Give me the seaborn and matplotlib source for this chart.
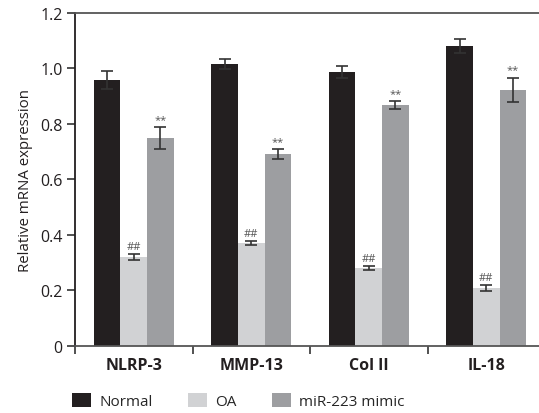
import numpy as np
import pandas as pd
import matplotlib
matplotlib.use("Agg")
from matplotlib import pyplot as plt
from matplotlib.patches import Patch
import seaborn as sns

genes = ["NLRP-3", "MMP-13", "Col II", "IL-18"]
groups = ["Normal", "OA", "miR-223 mimic"]
normal = [0.958, 1.016, 0.987, 1.081]
normal_err = [0.032, 0.017, 0.023, 0.026]
oa = [0.319, 0.370, 0.280, 0.208]
oa_err = [0.010, 0.008, 0.007, 0.010]
mimic = [0.749, 0.692, 0.868, 0.923]
mimic_err = [0.040, 0.018, 0.014, 0.044]
marks = ["", "##", "**"]
colors = ["#231f20", "#d1d2d4", "#9d9ea1"]

df = pd.DataFrame({
    "gene": genes * 3,
    "group": np.repeat(groups, len(genes)),
    "value": normal + oa + mimic,
    "err": normal_err + oa_err + mimic_err,
})

sns.set_style("white")
plt.rcParams["font.family"] = ["Open Sans", "DejaVu Sans"]

fig = plt.figure(figsize=(5.39, 4.14), dpi=100)
ax = fig.add_axes([75 / 539, 1 - 346.7 / 414, 470 / 539, 332.7 / 414])
sns.barplot(data=df, x="gene", y="value", hue="group", order=genes,
            hue_order=groups, palette=colors, width=0.68, errorbar=None,
            saturation=1, linewidth=0, legend=False, ax=ax)

bar_sets = list(ax.containers)
for i, cont in enumerate(bar_sets):
    sub = df[df["group"] == groups[i]].set_index("gene").loc[genes]
    xs = [p.get_x() + p.get_width() / 2 for p in cont.patches]
    ax.errorbar(xs, sub["value"], yerr=sub["err"], fmt="none",
                ecolor="#333333", elinewidth=1.2, capsize=4, capthick=1.2)
    if marks[i]:
        for x, v, e in zip(xs, sub["value"], sub["err"]):
            ax.text(x, v + e + 0.008, marks[i], ha="center", va="bottom",
                    fontsize=8, color="#555555")

ax.set_xlim(-0.5, 3.5)
ax.set_ylim(0, 1.2)
ax.set_yticks([0, 0.2, 0.4, 0.6, 0.8, 1.0, 1.2])
ax.set_yticklabels(["0", "0.2", "0.4", "0.6", "0.8", "1.0", "1.2"], fontsize=11.5,
                   color="#231f20")
ax.set_xticks(range(4))
ax.set_xticklabels(genes, fontsize=11.5, fontweight="bold", color="#231f20")
ax.set_xticks([-0.5, 0.5, 1.5, 2.5], minor=True)
ax.tick_params(axis="x", which="major", length=0, pad=8)
ax.tick_params(axis="x", which="minor", direction="out", length=6, width=1.2,
               color="#333333", bottom=True)
ax.tick_params(axis="y", direction="out", length=6, width=1.2, color="#333333",
               left=True, pad=3)
ax.set_xlabel("")
ax.set_ylabel("Relative mRNA expression", fontsize=10.8, color="#231f20", labelpad=5)
ax.spines["left"].set_color("#231f20")
ax.spines["top"].set_color("#555555")
ax.spines["bottom"].set_color("#555555")
for side in ["left", "top", "bottom"]:
    ax.spines[side].set_visible(True)
    ax.spines[side].set_linewidth(1.3)
ax.spines["right"].set_visible(False)

handles = [Patch(facecolor=c, edgecolor="none") for c in colors]
fig.legend(handles, groups, loc="center left", bbox_to_anchor=(0.108, 1 - 402 / 414),
           ncol=3, frameon=False, fontsize=11, handlelength=1.25, handleheight=1.1,
           handletextpad=0.55, columnspacing=2.3)

fig.savefig("out.png", dpi=100)
